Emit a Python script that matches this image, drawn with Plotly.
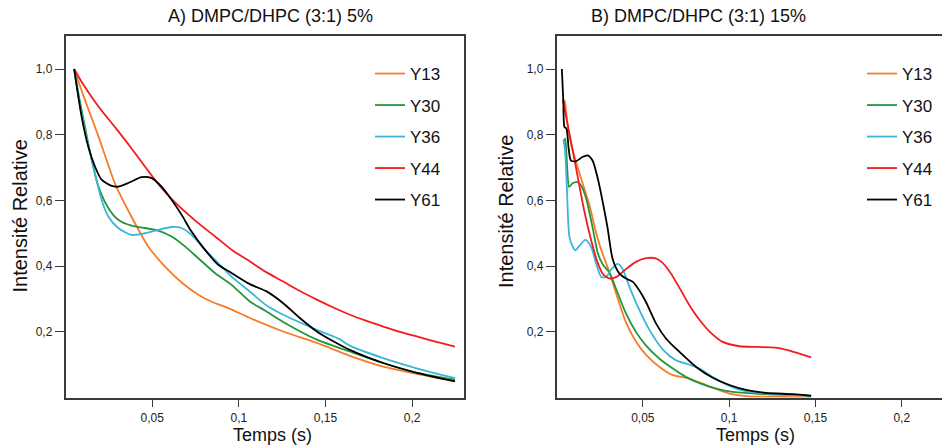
import plotly.graph_objects as go

# ---- Panel A: DMPC/DHPC (3:1) 5% ----
a_y13_t = [0.005, 0.0112, 0.019, 0.0285, 0.038, 0.0477, 0.0573, 0.067, 0.0766, 0.085, 0.094, 0.1064, 0.1256, 0.145, 0.164, 0.1833, 0.2026, 0.2247]
a_y13_i = [1.0, 0.906, 0.795, 0.652, 0.551, 0.46, 0.399, 0.350, 0.313, 0.290, 0.272, 0.242, 0.201, 0.166, 0.127, 0.094, 0.072, 0.05]

a_y30_t = [0.005, 0.008, 0.0112, 0.0151, 0.019, 0.0247, 0.0304, 0.0381, 0.0458, 0.0535, 0.0612, 0.0689, 0.0766, 0.0862, 0.0958, 0.1064, 0.1150, 0.1256, 0.145, 0.164, 0.1833, 0.2026, 0.2247]
a_y30_i = [1.0, 0.91, 0.825, 0.723, 0.642, 0.577, 0.541, 0.523, 0.516, 0.508, 0.49, 0.46, 0.424, 0.379, 0.343, 0.292, 0.265, 0.23, 0.176, 0.14, 0.105, 0.076, 0.054]

a_y36_t = [0.005, 0.008, 0.0112, 0.017, 0.0208, 0.0247, 0.0304, 0.0381, 0.0458, 0.0535, 0.0612, 0.067, 0.0727, 0.0804, 0.0881, 0.0958, 0.1074, 0.1160, 0.1256, 0.145, 0.155, 0.1583, 0.164, 0.1833, 0.2026, 0.2247]
a_y36_i = [1.0, 0.90, 0.815, 0.683, 0.602, 0.551, 0.516, 0.495, 0.50, 0.51, 0.519, 0.516, 0.495, 0.45, 0.409, 0.368, 0.318, 0.28, 0.252, 0.206, 0.185, 0.177, 0.158, 0.12, 0.089, 0.059]

a_y44_t = [0.005, 0.010, 0.019, 0.029, 0.038, 0.047, 0.0555, 0.065, 0.0766, 0.0868, 0.0958, 0.1064, 0.1150, 0.1256, 0.1350, 0.145, 0.1545, 0.1641, 0.1737, 0.1833, 0.193, 0.2026, 0.2135, 0.2247]
a_y44_i = [1.0, 0.955, 0.886, 0.82, 0.759, 0.695, 0.637, 0.585, 0.531, 0.488, 0.450, 0.414, 0.384, 0.353, 0.325, 0.298, 0.274, 0.252, 0.233, 0.216, 0.200, 0.186, 0.17, 0.155]

a_y61_t = [0.005, 0.0093, 0.0131, 0.017, 0.0208, 0.0266, 0.0304, 0.0362, 0.0439, 0.0497, 0.0554, 0.0612, 0.067, 0.0727, 0.0804, 0.0881, 0.0958, 0.1064, 0.116, 0.1256, 0.1352, 0.145, 0.1545, 0.164, 0.1833, 0.2026, 0.2247]
a_y61_i = [1.0, 0.855, 0.764, 0.703, 0.663, 0.644, 0.642, 0.653, 0.671, 0.668, 0.642, 0.602, 0.556, 0.505, 0.45, 0.404, 0.379, 0.345, 0.323, 0.287, 0.242, 0.201, 0.171, 0.145, 0.105, 0.075, 0.049]

# ---- Panel B: DMPC/DHPC (3:1) 15% ----
b_y13_t = [0.004, 0.0048, 0.0058, 0.0066, 0.0085, 0.0114, 0.0152, 0.0191, 0.023, 0.0259, 0.0307, 0.0346, 0.0403, 0.0461, 0.0519, 0.0597, 0.0674, 0.0751, 0.0828, 0.0905, 0.1002, 0.1098, 0.129, 0.1475]
b_y13_i = [0.87, 0.905, 0.86, 0.823, 0.77, 0.715, 0.651, 0.585, 0.50, 0.45, 0.38, 0.316, 0.228, 0.17, 0.13, 0.093, 0.068, 0.06, 0.046, 0.03, 0.012, 0.004, 0.002, 0.0]

b_y30_t = [0.0041, 0.005, 0.0062, 0.0073, 0.0093, 0.0122, 0.0143, 0.0172, 0.021, 0.0239, 0.0268, 0.0307, 0.0345, 0.0403, 0.0461, 0.0519, 0.0597, 0.0674, 0.0751, 0.0828, 0.0925, 0.1021, 0.1214, 0.1475]
b_y30_i = [0.78, 0.788, 0.70, 0.641, 0.652, 0.656, 0.645, 0.605, 0.515, 0.44, 0.405, 0.38, 0.331, 0.255, 0.199, 0.158, 0.118, 0.088, 0.062, 0.044, 0.027, 0.017, 0.01, 0.006]

b_y36_t = [0.0041, 0.005, 0.006, 0.0075, 0.0098, 0.011, 0.0133, 0.0168, 0.0201, 0.023, 0.0259, 0.0288, 0.0317, 0.0355, 0.0384, 0.0423, 0.0481, 0.0539, 0.0616, 0.0693, 0.077, 0.0828, 0.0905, 0.0983, 0.106, 0.1175, 0.131, 0.1475]
b_y36_i = [0.783, 0.75, 0.64, 0.489, 0.455, 0.448, 0.462, 0.48, 0.458, 0.407, 0.367, 0.367, 0.39, 0.407, 0.39, 0.336, 0.265, 0.205, 0.146, 0.113, 0.1, 0.088, 0.062, 0.04, 0.024, 0.014, 0.01, 0.006]

b_y44_t = [0.0037, 0.005, 0.008, 0.012, 0.016, 0.020, 0.0235, 0.027, 0.031, 0.035, 0.040, 0.046, 0.052, 0.057, 0.061, 0.066, 0.071, 0.077, 0.083, 0.089, 0.096, 0.106, 0.116, 0.127, 0.135, 0.1475]
b_y44_i = [0.905, 0.87, 0.79, 0.68, 0.57, 0.48, 0.415, 0.375, 0.362, 0.368, 0.39, 0.413, 0.424, 0.424, 0.412, 0.38, 0.336, 0.281, 0.235, 0.199, 0.17, 0.156, 0.154, 0.152, 0.143, 0.122]

b_y61_t = [0.0031, 0.004, 0.0046, 0.0058, 0.007, 0.0083, 0.0112, 0.015, 0.018, 0.0208, 0.0237, 0.0266, 0.0295, 0.0326, 0.0365, 0.0403, 0.0442, 0.0481, 0.0519, 0.0577, 0.0635, 0.0712, 0.0809, 0.0905, 0.1002, 0.1098, 0.1214, 0.137, 0.1475]
b_y61_i = [1.0, 0.895, 0.824, 0.818, 0.76, 0.722, 0.719, 0.732, 0.737, 0.722, 0.671, 0.6, 0.519, 0.42, 0.377, 0.362, 0.352, 0.325, 0.29, 0.225, 0.179, 0.139, 0.093, 0.06, 0.038, 0.023, 0.014, 0.01, 0.005]

series_names = ["Y13", "Y30", "Y36", "Y44", "Y61"]
series_colors = ["#f77b2b", "#22963a", "#3bb5da", "#f21c1c", "#000000"]

panel_a = [(a_y13_t, a_y13_i), (a_y30_t, a_y30_i), (a_y36_t, a_y36_i), (a_y44_t, a_y44_i), (a_y61_t, a_y61_i)]
panel_b = [(b_y13_t, b_y13_i), (b_y30_t, b_y30_i), (b_y36_t, b_y36_i), (b_y44_t, b_y44_i), (b_y61_t, b_y61_i)]

x_tickvals = [0.05, 0.1, 0.15, 0.2]
x_ticktext = ["0,05", "0,1", "0,15", "0,2"]
y_tickvals = [0.2, 0.4, 0.6, 0.8, 1.0]
y_ticktext = ["0,2", "0,4", "0,6", "0,8", "1,0"]

W, H = 942, 447
FONT = "Liberation Sans, Arial, sans-serif"
AXIS_COLOR = "#3a3a3a"

fig = go.Figure()

for panel, (xa, ya, leg) in zip([panel_a, panel_b], [("x", "y", "legend"), ("x2", "y2", "legend2")]):
    for (t, i), name, color in zip(panel, series_names, series_colors):
        fig.add_trace(go.Scatter(
            x=t, y=i, mode="lines", name=name,
            line=dict(color=color, width=1.8, shape="spline", smoothing=0.7),
            xaxis=xa, yaxis=ya, legend=leg, legendgroup=leg + name,
        ))

def px_x(p):
    return p / W

def px_y(p):
    return 1 - p / H

y_dom = [px_y(397.5), px_y(36)]

common_x = dict(
    tickvals=x_tickvals, ticktext=x_ticktext, ticks="outside", ticklen=8,
    tickcolor=AXIS_COLOR, showline=True, linecolor=AXIS_COLOR, linewidth=1.5,
    showgrid=False, zeroline=False, tickfont=dict(family=FONT, size=12, color="#222"),
)
common_y = dict(
    tickvals=y_tickvals, ticktext=y_ticktext, ticks="outside", ticklen=9,
    tickcolor=AXIS_COLOR, showline=True, linecolor=AXIS_COLOR, linewidth=1.5,
    showgrid=False, zeroline=False, tickfont=dict(family=FONT, size=12, color="#222"),
    range=[0, 1.1005],
)

legend_style = dict(
    xanchor="left", yanchor="top",
    font=dict(family=FONT, size=17, color="#111"),
    bgcolor="rgba(0,0,0,0)", traceorder="grouped", tracegroupgap=6.4,
)

fig.update_layout(
    width=W, height=H,
    margin=dict(l=0, r=0, t=0, b=0),
    paper_bgcolor="white", plot_bgcolor="white",
    font=dict(family=FONT, color="#111"),
    xaxis=dict(domain=[px_x(65.5), px_x(464)], range=[0, 0.2299], anchor="y", mirror=True, **common_x),
    yaxis=dict(domain=y_dom, anchor="x", mirror=True, **common_y),
    xaxis2=dict(domain=[px_x(556.5), 1.0], range=[0, 0.2233], anchor="y2", mirror=True, **common_x),
    yaxis2=dict(domain=y_dom, anchor="x2", **common_y),
    legend=dict(x=px_x(370), y=px_y(56), **legend_style),
    legend2=dict(x=px_x(862), y=px_y(56), **legend_style),
    showlegend=True,
)

def label(text, x, y, size, angle=0):
    fig.add_annotation(text=text, x=px_x(x), y=px_y(y), xref="paper", yref="paper",
                       xanchor="center", yanchor="middle", showarrow=False, textangle=angle,
                       font=dict(family=FONT, size=size, color="#111"))

label("A) DMPC/DHPC (3:1) 5%", 270.5, 16, 18)
label("B) DMPC/DHPC (3:1) 15%", 698, 16, 18)
label("Temps (s)", 272, 435, 18)
label("Temps (s)", 755, 435, 18)
label("Intensité Relative", 19, 216.5, 20, -90)
label("Intensité Relative", 506, 212, 20, -90)

fig.write_html("out.html")
